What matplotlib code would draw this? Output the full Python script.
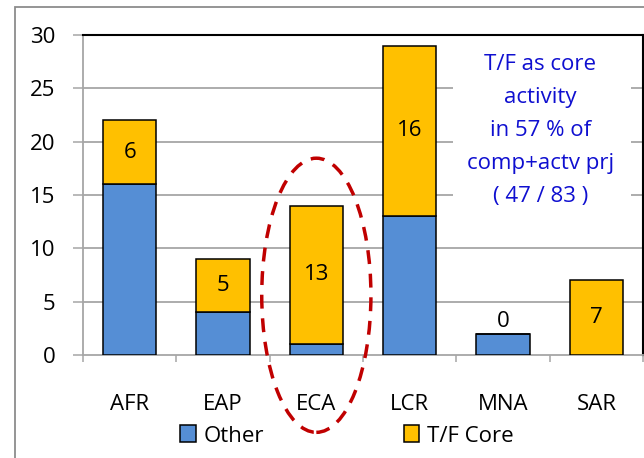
import matplotlib
matplotlib.use("Agg")
import matplotlib.pyplot as plt
from matplotlib.patches import Ellipse, Rectangle, Patch
import numpy as np

categories = ["AFR", "EAP", "ECA", "LCR", "MNA", "SAR"]
other = [16, 4, 1, 13, 2, 0]
tf_core = [6, 5, 13, 16, 0, 7]
yticks = [0, 5, 10, 15, 20, 25, 30]
note_lines = ["T/F as core", "activity", "in 57 % of", "comp+actv prj", "( 47 / 83 )"]

plt.rcParams['font.family'] = ['Open Sans', 'DejaVu Sans']
FS = 16
BLUE = "#558ED5"
GOLD = "#FFC000"
GRID = "#A6A6A6"

fig = plt.figure(figsize=(6.44, 4.58), dpi=100)
W, H = 644, 458
ax = fig.add_axes([83 / W, 1 - 355 / H, (643 - 83) / W, (355 - 35) / H])

x = np.arange(len(categories))
bw = 0.57
ax.bar(x, other, bw, color=BLUE, edgecolor="black", linewidth=1.1, zorder=3, label="Other")
ax.bar(x, tf_core, bw, bottom=other, color=GOLD, edgecolor="black", linewidth=1.1, zorder=3, label="T/F Core")

for xi, o, t in zip(x, other, tf_core):
    if t > 0:
        ax.text(xi, o + t / 2, str(t), ha="center", va="center", fontsize=FS, zorder=5)
    else:
        ax.text(xi, o + 0.2, str(t), ha="center", va="bottom", fontsize=FS, zorder=5)

ax.set_xlim(-0.5, len(categories) - 0.5)
ax.set_ylim(0, 30)
ax.set_yticks(yticks)
ax.set_yticklabels([str(v) for v in yticks], fontsize=FS)
ax.set_xticks(x)
ax.set_xticklabels(categories, fontsize=FS)
ax.set_xticks(np.arange(-0.5, len(categories)), minor=True)
ax.tick_params(axis="x", which="major", length=0, pad=28)
ax.tick_params(axis="x", which="minor", length=5, width=1.1, color=GRID)
ax.tick_params(axis="y", length=7, width=1.1, color=GRID, pad=13)

for v in yticks[1:-1]:
    ax.axhline(v, color=GRID, linewidth=1.3, zorder=1)

ax.spines["left"].set_color(GRID)
ax.spines["bottom"].set_color(GRID)
ax.spines["left"].set_linewidth(1.3)
ax.spines["bottom"].set_linewidth(1.3)
ax.spines["top"].set_color("black")
ax.spines["right"].set_color("black")
ax.spines["top"].set_linewidth(1.5)
ax.spines["right"].set_linewidth(1.5)

# white box behind the note
ax.add_patch(Rectangle((3.465, 13.0), 1.905, 16.3, facecolor="white", edgecolor="none", zorder=2))
ax.text(4.40, 21.05, "\n".join(note_lines), ha="center", va="center", fontsize=FS,
        color="#0F0FD0", linespacing=1.75, zorder=5)

# dashed ellipse around ECA
ell = Ellipse((2, 5.6), 1.17, 25.7, fill=False, edgecolor="#C00000", linewidth=2.5,
              linestyle=(0, (4, 2.8)), zorder=6, clip_on=False)
ax.add_patch(ell)

# legend
handles = [Patch(facecolor=BLUE, edgecolor="black", linewidth=1.1),
           Patch(facecolor=GOLD, edgecolor="black", linewidth=1.1)]
fig.legend(handles, ["Other", "T/F Core"], loc="center", bbox_to_anchor=(347 / W, 1 - 436 / H),
           ncol=2, frameon=False, fontsize=FS, handlelength=0.7, handleheight=0.8,
           handletextpad=0.35, columnspacing=6.3, borderpad=0)

# outer chart border
fig.patches.append(Rectangle((15 / W, -0.2), 1.2, 1 - 7 / H + 0.2, transform=fig.transFigure,
                             facecolor="none", edgecolor="#8C8C8C", linewidth=1.3, zorder=0))

fig.savefig("out.png", dpi=100)
